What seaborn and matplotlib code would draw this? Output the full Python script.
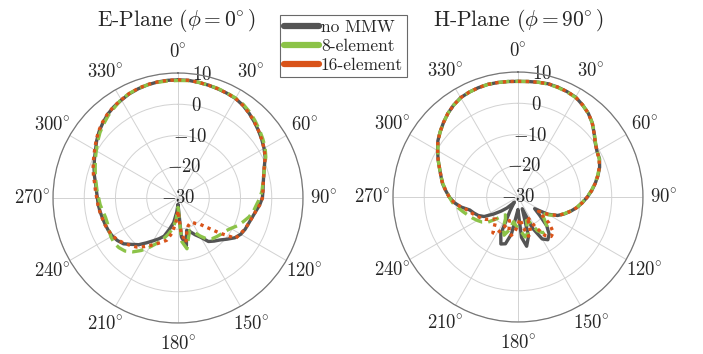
import numpy as np
import pandas as pd
import matplotlib
matplotlib.use('Agg')
import matplotlib.pyplot as plt
from matplotlib.lines import Line2D
import seaborn as sns

# angles (deg) of the measured pattern, 5 deg step
angles = np.arange(0, 360, 5)

# E-plane gain (dB)
e_no_mmw = [7.8, 7.8, 7.6, 7.4, 7.2, 7.0, 6.8, 6.2, 5.4, 4.5, 3.6, 2.7,
            1.8, 0.8, -0.6, -1.6, -2.3, -2.7, -3.0, -3.8, -4.8, -5.5, -6.0, -6.3,
            -6.8, -7.8, -9.5, -11.0, -12.0, -13.0, -15.5, -17.0, -18.5, -19.3, -14.5, -17.5,
            -28.0, -25.5, -22.0, -19.8, -17.0, -15.6, -14.2, -12.5, -10.5, -9.0, -7.2, -6.3,
            -5.7, -5.4, -5.2, -5.0, -4.7, -4.4, -4.2, -3.8, -3.2, -2.3, -1.4, -0.5,
            0.5, 1.8, 3.0, 4.0, 5.0, 5.7, 6.2, 6.8, 7.2, 7.5, 7.7, 7.8]
e_8_elem = [7.6, 7.7, 7.6, 7.4, 7.3, 7.1, 6.9, 6.5, 5.8, 4.9, 4.0, 3.1,
            2.2, 1.0, -0.5, -1.6, -2.4, -3.0, -3.8, -4.8, -5.5, -6.5, -7.8, -9.0,
            -10.5, -11.5, -12.0, -12.5, -13.0, -14.0, -16.0, -18.0, -19.0, -17.0, -13.5, -16.0,
            -27.0, -23.0, -20.0, -18.0, -16.0, -14.0, -11.8, -9.5, -7.5, -6.0, -5.3, -5.0,
            -5.2, -5.6, -6.0, -6.0, -5.6, -5.0, -4.6, -4.0, -3.4, -2.6, -1.8, -0.8,
            0.2, 1.4, 2.6, 3.6, 4.6, 5.4, 6.4, 6.9, 7.3, 7.5, 7.6, 7.6]
e_16_elem = [7.8, 7.8, 7.6, 7.4, 7.2, 7.0, 6.8, 6.2, 5.4, 4.5, 3.6, 2.7,
             1.8, 0.8, -0.6, -1.6, -2.3, -2.7, -3.0, -3.8, -4.8, -5.5, -6.0, -6.4,
             -7.0, -7.5, -12.5, -16.5, -19.0, -20.0, -21.0, -21.0, -20.5, -19.0, -15.5, -19.0,
             -26.0, -22.0, -18.5, -16.0, -15.0, -13.8, -12.5, -11.0, -9.5, -8.5, -7.5, -6.5,
             -5.8, -5.4, -5.1, -4.9, -4.6, -4.3, -4.0, -3.5, -2.9, -2.0, -1.1, -0.2,
             0.8, 2.0, 3.2, 4.2, 5.1, 5.8, 6.3, 6.9, 7.3, 7.6, 7.7, 7.8]

# H-plane gain (dB)
h_no_mmw = [7.0, 7.1, 7.3, 7.5, 7.4, 7.2, 6.9, 6.0, 5.0, 3.6, 1.8, 0.2,
            -0.8, -1.2, -2.2, -3.5, -4.9, -6.3, -7.8, -9.3, -10.8, -12.5, -14.2, -16.0,
            -19.0, -23.5, -21.0, -17.0, -14.5, -13.3, -14.5, -19.0, -26.0, -17.0, -14.0, -17.0,
            -26.0, -24.0, -18.0, -14.5, -14.0, -17.0, -25.0, -28.0, -27.0, -25.0, -23.0, -20.5,
            -17.5, -16.0, -15.0, -14.0, -11.5, -9.5, -8.0, -6.8, -5.5, -4.5, -3.3, -1.8,
            -0.3, 1.3, 2.5, 3.7, 4.9, 5.9, 6.7, 7.0, 7.2, 7.3, 7.2, 7.1]
h_8_elem = [7.0, 7.1, 7.3, 7.4, 7.3, 7.1, 6.8, 6.0, 5.0, 3.6, 1.9, 0.3,
            -0.7, -1.3, -2.3, -3.6, -5.0, -6.4, -7.9, -9.4, -10.9, -12.6, -14.3, -16.0,
            -18.5, -21.0, -19.0, -17.0, -16.0, -16.0, -17.5, -21.0, -22.0, -18.0, -17.0, -19.0,
            -20.0, -21.0, -22.0, -19.0, -17.0, -19.0, -22.0, -23.0, -22.0, -20.0, -17.5, -16.0,
            -15.0, -14.0, -13.0, -11.8, -10.5, -9.0, -8.0, -6.9, -5.6, -4.5, -3.3, -1.8,
            -0.4, 1.2, 2.5, 3.7, 4.9, 5.9, 6.6, 7.0, 7.2, 7.3, 7.2, 7.1]
h_16_elem = [7.0, 7.1, 7.3, 7.5, 7.4, 7.2, 6.9, 6.0, 5.0, 3.6, 1.8, 0.2,
             -0.8, -1.3, -2.3, -3.5, -4.9, -6.3, -7.8, -9.3, -10.8, -12.5, -14.2, -16.0,
             -19.0, -22.0, -17.0, -14.0, -13.5, -15.0, -19.0, -23.0, -18.0, -17.0, -20.0, -23.0,
             -21.0, -19.0, -17.5, -19.0, -22.0, -19.0, -16.5, -16.0, -18.5, -20.0, -19.0, -17.5,
             -16.5, -15.5, -14.5, -13.5, -11.5, -9.5, -8.0, -6.8, -5.5, -4.5, -3.3, -1.8,
             -0.3, 1.3, 2.5, 3.7, 4.9, 5.9, 6.7, 7.0, 7.2, 7.3, 7.2, 7.1]

series_names = ['no MMW', '8-element', '16-element']
series_colors = ['#545454', '#8cc348', '#d95319']
plane_titles = [r'E-Plane ($\phi = 0\!^\circ$)', r'H-Plane ($\phi = 90\!^\circ$)']


def make_frame(curves):
    rows = []
    for name, vals in zip(series_names, curves):
        # close the loop back to 0 deg
        th = np.deg2rad(np.append(angles, 360))
        g = np.append(vals, vals[0])
        rows.append(pd.DataFrame({'theta': th, 'gain': g, 'series': name}))
    return pd.concat(rows, ignore_index=True)


e_df = make_frame([e_no_mmw, e_8_elem, e_16_elem])
h_df = make_frame([h_no_mmw, h_8_elem, h_16_elem])

sns.set_style('white')
plt.rcParams['font.family'] = 'serif'
plt.rcParams['font.serif'] = ['cmr10', 'DejaVu Serif']
plt.rcParams['mathtext.fontset'] = 'cm'
plt.rcParams['axes.unicode_minus'] = False

fig = plt.figure(figsize=(7.03, 3.54), dpi=100)
ax_e = fig.add_axes([0.0754, 0.0876, 0.3556, 0.7062], projection='polar')
ax_h = fig.add_axes([0.5590, 0.0904, 0.3556, 0.7062], projection='polar')

dash_map = {'no MMW': '', '8-element': (3.4, 1.8), '16-element': (1.0, 1.3)}

for ax, df, title, cx in [(ax_e, e_df, plane_titles[0], 176 / 703),
                          (ax_h, h_df, plane_titles[1], 518 / 703)]:
    ax.set_theta_zero_location('N')
    ax.set_theta_direction(-1)
    sns.lineplot(data=df, x='theta', y='gain', hue='series', style='series',
                 hue_order=series_names, style_order=series_names,
                 palette=series_colors, dashes=dash_map, linewidth=2.4,
                 estimator=None, sort=False, legend=False, ax=ax)
    ax.set_ylim(-30, 10)
    ax.set_thetagrids(range(0, 360, 30),
                      [r'$%d\!^\circ$' % a for a in range(0, 360, 30)], fontsize=13.5)
    ax.set_rgrids([-30, -20, -10, 0, 10],
                  [r'$-30$', r'$-20$', r'$-10$', r'$0$', r'$10$'], fontsize=13.5)
    ax.set_rlabel_position(11)
    for t in ax.yaxis.get_major_ticks():
        t.label1.set_horizontalalignment('center')
        t.label1.set_verticalalignment('center')
    ax.tick_params(axis='y', pad=0)
    ax.tick_params(axis='x', pad=4.5)
    ax.grid(True, color='#d2d2d2', linewidth=0.7)
    ax.spines['polar'].set_color('#777777')
    ax.spines['polar'].set_linewidth(0.9)
    ax.set_xlabel('')
    ax.set_ylabel('')
    fig.text(cx, 1 - 21 / 354, title, ha='center', va='center', fontsize=15.5)

handles = [Line2D([], [], color=c, lw=4.5) for c in series_colors]
leg = fig.legend(handles, series_names, loc='upper left',
                 bbox_to_anchor=(280 / 703, 1 - 15 / 354), fontsize=12.5,
                 frameon=True, fancybox=False, handlelength=2.0,
                 handletextpad=0.1, borderpad=0.25, labelspacing=0.22,
                 borderaxespad=0)
leg.get_frame().set_edgecolor('#444444')
leg.get_frame().set_linewidth(0.8)

fig.savefig('out.png', dpi=100)
